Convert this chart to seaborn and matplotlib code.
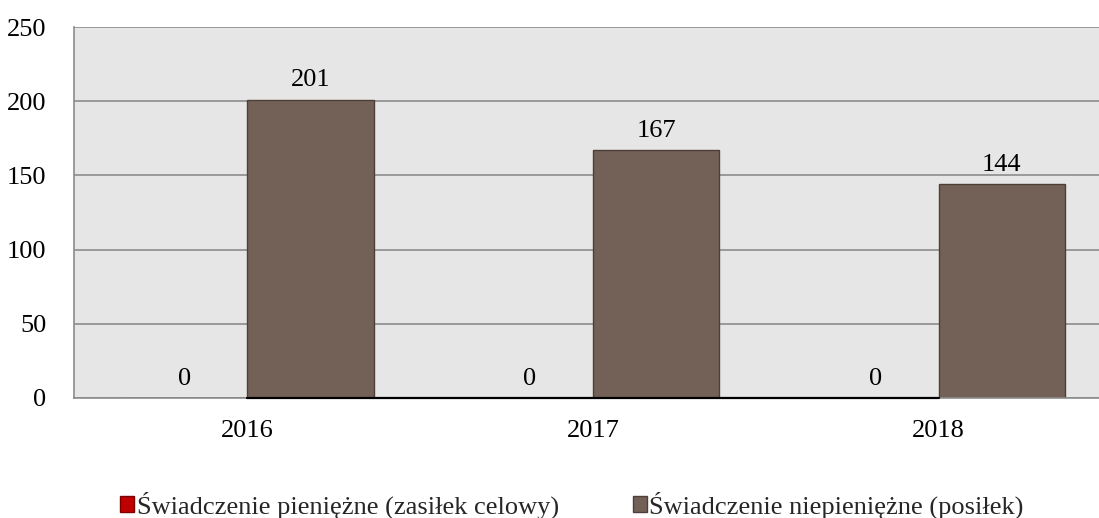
import matplotlib
matplotlib.use("Agg")
import matplotlib.pyplot as plt
import seaborn as sns
import pandas as pd
from matplotlib.patches import Patch

years = ["2016", "2017", "2018"]
series_names = ["Świadczenie pieniężne (zasiłek celowy)",
                "Świadczenie niepieniężne (posiłek)"]
cash_values = [0, 0, 0]
meal_values = [201, 167, 144]
colors = ["#c00000", "#736157"]
edge_colors = ["#7a0000", "#4d3f38"]

df = pd.DataFrame({
    "rok": years * 2,
    "seria": [series_names[0]] * 3 + [series_names[1]] * 3,
    "wartosc": cash_values + meal_values,
})

sns.set_theme(style="white")
plt.rcParams["font.family"] = ["Liberation Serif", "DejaVu Serif"]

fig = plt.figure(figsize=(10.99, 5.18), dpi=100)
ax = fig.add_axes([74 / 1099, 1 - 398 / 518, 1038 / 1099, 371 / 518])
ax.set_facecolor("#e6e6e6")

sns.barplot(data=df, x="rok", y="wartosc", hue="seria", palette=colors,
            width=0.73, saturation=1, ax=ax, legend=False)

for container, ec in zip(ax.containers, edge_colors):
    for bar in container:
        bar.set_edgecolor(ec)
        bar.set_linewidth(1.0)
    ax.bar_label(container, fmt="%d", padding=6, fontsize=19, color="black")

# dark baseline running from the first to the last meal bar
meal_bars = list(ax.containers[1])
ax.plot([meal_bars[0].get_x(), meal_bars[-1].get_x()], [0, 0],
        color="black", linewidth=1.6, zorder=4, clip_on=False)

ax.set_ylim(0, 250)
ax.set_yticks(range(0, 251, 50))
ax.yaxis.grid(True, color="#8c8c8c", linewidth=1.2)
ax.set_axisbelow(True)
ax.set_xlabel("")
ax.set_ylabel("")
ax.tick_params(axis="both", labelsize=19, length=0, colors="black")
ax.tick_params(axis="x", pad=16)
ax.tick_params(axis="y", pad=20)
for side in ["top", "right"]:
    ax.spines[side].set_visible(False)
for side in ["left", "bottom"]:
    ax.spines[side].set_color("#8c8c8c")
    ax.spines[side].set_linewidth(1.2)

handles = [Patch(facecolor=c, edgecolor=e, label=n)
           for c, e, n in zip(colors, edge_colors, series_names)]
fig.legend(handles=handles, loc="center", bbox_to_anchor=(572 / 1099, 1 - 505 / 518),
           ncol=2, frameon=False, fontsize=19, handlelength=0.53,
           handleheight=0.53, handletextpad=0.1, columnspacing=2.8,
           borderpad=0.0)

fig.savefig("out.png", dpi=100)
